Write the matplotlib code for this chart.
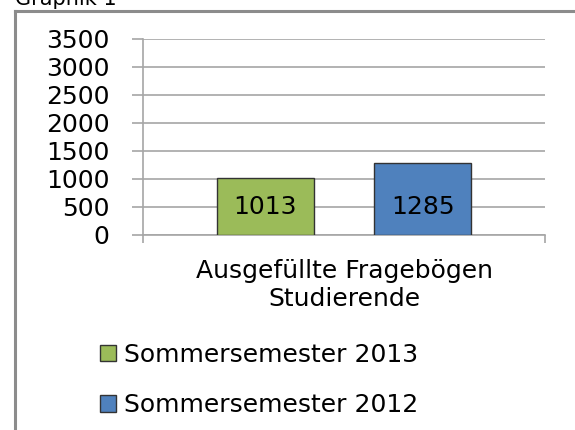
import matplotlib
matplotlib.use("Agg")
import matplotlib.pyplot as plt
from matplotlib.patches import Patch
from matplotlib.lines import Line2D

categories = ["Ausgefüllte Fragebögen\nStudierende"]
series_names = ["Sommersemester 2013", "Sommersemester 2012"]
values_2013 = [1013]
values_2012 = [1285]
colors = ["#9BBB59", "#4F81BD"]
yticks = [0, 500, 1000, 1500, 2000, 2500, 3000, 3500]

W, H = 575, 430
fig = plt.figure(figsize=(W / 100, H / 100), dpi=100)
plt.rcParams['font.family'] = ['DejaVu Sans']
FS = 18

ax = fig.add_axes([143 / W, 1 - 235 / H, (545 - 143) / W, (235 - 39) / H])

off = 0.196
bw = 0.242
for i, vals in enumerate([values_2013, values_2012]):
    xs = [k + (-off if i == 0 else off) for k in range(len(categories))]
    ax.bar(xs, vals, width=bw, color=colors[i], edgecolor="#333333",
           linewidth=1.0, zorder=3, label=series_names[i])
    for x, v in zip(xs, vals):
        ax.text(x, 500, str(v), ha="center", va="center", fontsize=FS, zorder=4)

ax.set_xlim(-0.5, len(categories) - 0.5)
ax.set_ylim(0, 3500)
ax.set_yticks(yticks)
ax.set_yticklabels([str(t) for t in yticks], fontsize=FS)
ax.yaxis.grid(True, color="#A6A6A6", linewidth=1.2, zorder=0)
ax.tick_params(axis="y", length=8, color="#A6A6A6", width=1.2, pad=16)
ax.set_xticks(range(len(categories)))
ax.set_xticklabels(categories, fontsize=FS, linespacing=1.25)
ax.tick_params(axis="x", length=0, pad=17)
ax.set_xticks([-0.5, len(categories) - 0.5], minor=True)
ax.tick_params(axis="x", which="minor", length=6, color="#A6A6A6", width=1.2)
for s in ["top", "right"]:
    ax.spines[s].set_visible(False)
ax.spines["left"].set_color("#A6A6A6")
ax.spines["left"].set_linewidth(1.2)
ax.spines["bottom"].set_color("#A6A6A6")
ax.spines["bottom"].set_linewidth(1.2)

handles = [Patch(facecolor=colors[i], edgecolor="#333333", linewidth=1.0)
           for i in range(2)]
leg = fig.legend(handles, series_names, loc="center left",
                 bbox_to_anchor=(100 / W, 1 - 380 / H), borderaxespad=0, borderpad=0,
                 frameon=False, fontsize=FS, handlelength=0.65, handleheight=0.65,
                 handletextpad=0.3, labelspacing=1.05)

# outer frame
fig.add_artist(Line2D([15 / W, 15 / W], [0, 1 - 11 / H], transform=fig.transFigure,
                      color="#8C8C8C", linewidth=2.2))
fig.add_artist(Line2D([15 / W, 1], [1 - 11 / H, 1 - 11 / H], transform=fig.transFigure,
                      color="#8C8C8C", linewidth=2.2))
fig.text(15 / W, 1 - 5 / H, "Graphik 1", fontsize=15, ha="left", va="baseline")

fig.savefig("out.png", dpi=100)
